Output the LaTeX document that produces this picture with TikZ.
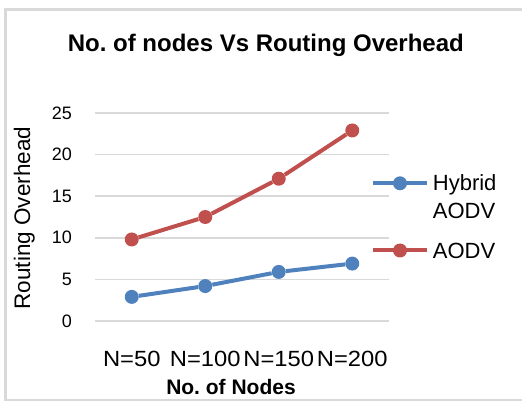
\documentclass[tikz,border=0pt]{standalone}
\usepackage{fontspec}
\setmainfont{Liberation Sans}
\usetikzlibrary{positioning}
\definecolor{aodvred}{HTML}{C0504D}
\definecolor{hybblue}{HTML}{4F81BD}
\definecolor{gridgray}{HTML}{D9D9D9}
\frenchspacing

\begin{document}
\begin{tikzpicture}[x=1pt,y=-1pt,
	dot/.style={shape=circle,fill=#1,inner sep=0pt,minimum size=14pt},
	series/.style={draw=#1,line width=4pt,line join=round},
	gridline/.style={draw=gridgray,line width=1.5pt},
	ticklabel/.style={inner sep=0pt,font=\fontsize{18}{21}\selectfont},
	catlabel/.style={inner sep=0pt,anchor=base,xscale=1.08,font=\fontsize{22}{26}\selectfont},
	legtext/.style={inner sep=0pt,align=left,font=\fontsize{22}{28.3}\selectfont}]
	\useasboundingbox (0,0) rectangle (522,403);
	\draw[gridgray,line width=2.5pt] (522,9.3) -- (5.3,9.3) -- (5.3,400) -- (522,400);
	
	\node[anchor=base,inner sep=0pt,font=\bfseries\fontsize{24}{28}\selectfont] (title) at (265.8,51.7) {No. of nodes Vs Routing Overhead};
	\node[anchor=base,rotate=90,inner sep=0pt,font=\fontsize{22.5}{27}\selectfont] (ytitle) at (30,218) {Routing Overhead};
	\node[anchor=base,inner sep=0pt,font=\bfseries\fontsize{21}{25}\selectfont] (xtitle) at (231,394) {No. of Nodes};
	
	\begin{scope}[shift={(58.25,321)},x=73.5pt,y=8.32pt]
		% grid and values
		\foreach \v in {0,5,...,25} {
			\coordinate (g\v) at (0.5,\v);
			\draw[gridline] (g\v) -- (4.5,\v);
			\node[ticklabel,left=23pt of g\v] (t\v) {\v};
		}
		\node[catlabel] (c1) at (1,-5.49) {N=50};
		\node[catlabel] (c2) at (2,-5.49) {N=100};
		\node[catlabel] (c3) at (3,-5.49) {N=150};
		\node[catlabel] (c4) at (4,-5.49) {N=200};
		
		\node[dot=aodvred] (a1) at (1,9.8) {};
		\node[dot=aodvred] (a2) at (2,12.5) {};
		\node[dot=aodvred] (a3) at (3,17.1) {};
		\node[dot=aodvred] (a4) at (4,22.9) {};
		\node[dot=hybblue] (h1) at (1,2.9) {};
		\node[dot=hybblue] (h2) at (2,4.2) {};
		\node[dot=hybblue] (h3) at (3,5.9) {};
		\node[dot=hybblue] (h4) at (4,6.9) {};
		
		\path [series=aodvred] (a1) edge (a2);
		\path [series=aodvred] (a2) edge (a3);
		\path [series=aodvred] (a3) edge (a4);
		\path [series=hybblue] (h1) edge (h2);
		\path [series=hybblue] (h2) edge (h3);
		\path [series=hybblue] (h3) edge (h4);
	\end{scope}
	
	% legend
	\coordinate (lh1) at (373,183.3);
	\coordinate (lh2) at (427,183.3);
	\path [series=hybblue] (lh1) edge (lh2);
	\node[dot=hybblue] (lh) at (400,183.3) {};
	\node[legtext,anchor=north west] (lht) at (432.7,174.5) {Hybrid\\AODV};
	\coordinate (la1) at (373,250.5);
	\coordinate (la2) at (427,250.5);
	\path [series=aodvred] (la1) edge (la2);
	\node[dot=aodvred] (la) at (400,250.5) {};
	\node[legtext,anchor=base west] (lat) at (432.7,258.3) {AODV};
\end{tikzpicture}
\end{document}
